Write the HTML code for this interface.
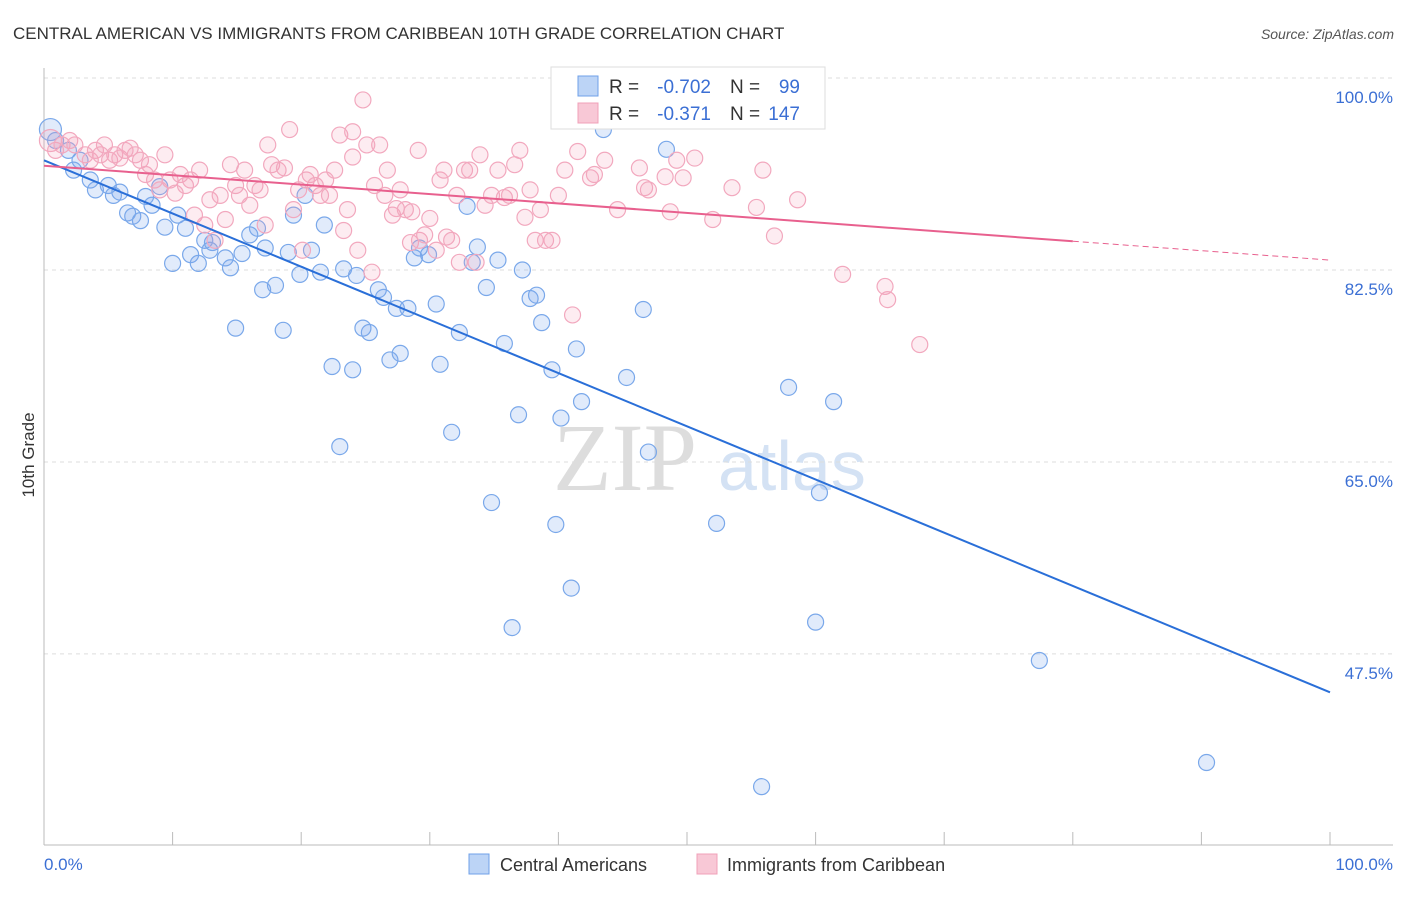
<!DOCTYPE html>
<html><head><meta charset="utf-8"><style>
body{margin:0;background:#fff;font-family:"Liberation Sans",sans-serif}
</style></head><body>
<svg id="chart" width="1406" height="892" xmlns="http://www.w3.org/2000/svg" font-family="Liberation Sans, sans-serif">
<text x="13" y="39" font-size="17" fill="#333">CENTRAL AMERICAN VS IMMIGRANTS FROM CARIBBEAN 10TH GRADE CORRELATION CHART</text>
<text x="1394" y="39" font-size="14" fill="#555" font-style="italic" text-anchor="end">Source: ZipAtlas.com</text>
<g><text x="553" y="490" font-size="96" fill="#ddd" font-family="Liberation Serif, serif">ZIP</text><text x="718" y="490" font-size="70" fill="#d4e2f4">atlas</text></g>
<g id="grid"></g><g id="axes"></g><g id="pts"></g><g id="lines"></g>
<text transform="translate(34,455) rotate(-90)" font-size="17" fill="#333" text-anchor="middle">10th Grade</text>
<text x="44" y="870" font-size="17" fill="#3b6fd4">0.0%</text>
<text x="1393" y="870" font-size="17" fill="#3b6fd4" text-anchor="end">100.0%</text>
<g>
<rect x="551" y="67" width="274" height="62" fill="#fff" stroke="#ddd"/>
<rect x="578" y="76" width="20" height="20" fill="#bcd4f6" stroke="#6fa0e8"/>
<rect x="578" y="103" width="20" height="20" fill="#f8c8d6" stroke="#f0a0b8"/>
<text x="609" y="93" font-size="19" fill="#333">R =</text>
<text x="711" y="93" font-size="19" fill="#3b6fd4" text-anchor="end">-0.702</text>
<text x="730" y="93" font-size="19" fill="#333">N =</text>
<text x="800" y="93" font-size="19" fill="#3b6fd4" text-anchor="end">99</text>
<text x="609" y="120" font-size="19" fill="#333">R =</text>
<text x="711" y="120" font-size="19" fill="#3b6fd4" text-anchor="end">-0.371</text>
<text x="730" y="120" font-size="19" fill="#333">N =</text>
<text x="800" y="120" font-size="19" fill="#3b6fd4" text-anchor="end">147</text>
</g>
<g>
<rect x="469" y="854" width="20" height="20" fill="#bcd4f6" stroke="#6fa0e8"/>
<text x="500" y="871" font-size="18" fill="#333">Central Americans</text>
<rect x="697" y="854" width="20" height="20" fill="#f8c8d6" stroke="#f0a0b8"/>
<text x="727" y="871" font-size="18" fill="#333">Immigrants from Caribbean</text>
</g>
</svg>
<script>
const yTicks=[100,82.5,65,47.5];
const yTickLabels=["100.0%","82.5%","65.0%","47.5%"];
const blueX=[0.5,0.9,1.9,2.8,2.3,3.6,4.0,5.0,5.4,5.9,6.5,6.9,7.5,7.9,8.4,9.0,9.4,10.0,10.4,11.0,11.4,12.0,12.5,13.1,12.9,14.1,14.5,14.9,15.4,16.0,16.6,17.0,17.2,18.0,18.6,19.0,19.4,19.9,20.3,20.8,21.5,21.8,22.4,23.0,23.3,24.0,24.3,24.8,25.3,26.0,26.4,26.9,27.4,27.7,28.3,28.8,29.2,29.9,30.5,30.8,31.7,32.3,32.9,33.3,33.7,34.4,34.8,35.3,35.8,36.4,36.9,37.2,37.8,38.3,38.7,39.5,39.8,40.2,41.0,41.4,41.8,43.5,45.3,46.6,47.0,48.4,52.3,57.9,60.0,60.3,61.4,77.4,90.4,55.8];
const blueY=[95.3,94.3,93.4,92.5,91.6,90.7,89.8,90.2,89.3,89.6,87.7,87.4,87.0,89.2,88.4,90.1,86.4,83.1,87.5,86.3,83.9,83.1,85.2,85.0,84.3,83.6,82.7,77.2,84.0,85.7,86.3,80.7,84.5,81.1,77.0,84.1,87.5,82.1,89.3,84.3,82.3,86.6,73.7,66.4,82.6,73.4,82.0,77.2,76.8,80.7,80.0,74.3,79.0,74.9,79.0,83.6,84.5,83.9,79.4,73.9,67.7,76.8,88.3,83.2,84.6,80.9,61.3,83.4,75.8,49.9,69.3,82.5,79.9,80.2,77.7,73.4,59.3,69.0,53.5,75.3,70.5,95.3,72.7,78.9,65.9,93.5,59.4,71.8,50.4,62.2,70.5,46.9,37.6,35.4];
const pinkX=[0.5,0.9,1.4,2.0,2.4,3.2,3.6,4.0,4.4,4.7,5.1,5.5,5.9,6.3,6.7,7.1,7.5,7.9,8.2,8.6,9.0,9.4,9.8,10.2,10.6,11.0,11.4,11.7,12.1,12.5,12.9,13.3,13.7,14.1,14.5,14.9,15.2,15.6,16.0,16.4,16.8,17.2,17.4,17.7,18.2,18.7,19.1,19.4,19.8,20.1,20.4,20.7,21.1,21.5,21.9,22.2,22.6,23.0,23.3,23.6,24.0,24.0,24.4,24.8,25.1,25.5,25.7,26.1,26.5,26.7,27.1,27.4,27.7,28.1,28.5,28.6,29.1,29.2,29.6,30.0,30.5,30.8,31.1,31.3,31.7,32.1,32.3,32.7,33.1,33.6,33.9,34.3,34.8,35.3,35.8,36.2,36.6,37.0,37.4,37.8,38.2,38.6,39.0,39.5,40.0,40.5,40.9,41.1,41.5,42.5,42.8,43.6,44.6,46.3,46.7,47.0,48.3,48.7,49.2,49.7,50.6,52.0,53.5,55.4,55.9,56.8,58.6,62.1,65.4,65.6,68.1,54.5];
const pinkY=[94.3,93.4,93.9,94.3,93.9,93.0,92.5,93.4,93.0,93.9,92.5,93.0,92.7,93.4,93.6,93.0,92.5,91.2,92.1,90.7,89.8,93.0,90.7,89.5,91.2,90.2,90.7,87.5,91.6,86.6,88.9,85.2,89.3,87.1,92.1,90.2,89.3,91.6,88.4,90.2,89.8,86.6,93.9,92.1,91.6,91.8,95.3,88.0,89.8,84.3,90.7,91.2,90.2,89.3,90.7,89.3,91.6,94.8,86.1,88.0,95.1,92.8,84.3,98.0,93.9,82.3,90.2,93.9,89.3,91.6,87.5,88.1,89.8,88.0,85.0,87.8,93.4,85.2,85.7,87.2,84.3,90.7,91.6,85.5,85.2,89.3,83.2,91.6,91.6,83.2,93.0,88.4,89.3,91.6,89.1,89.3,92.1,93.4,87.3,89.8,85.2,88.0,85.2,85.2,89.3,91.6,96.4,78.4,93.3,90.9,91.2,92.5,88.0,91.8,90.0,89.8,91.0,87.8,92.5,90.9,92.7,87.1,90.0,88.2,91.6,85.6,88.9,82.1,81.0,79.8,75.7,99.8];
const blueFit=[92.5,44.0];
const pinkFit=[92.0,83.4];
const pinkSolidEnd=80;
const NS="http://www.w3.org/2000/svg";
const xs=v=>44+v*12.86, ys=v=>78+(100-v)*10.97;
function mk(tag,attrs,parent){const e=document.createElementNS(NS,tag);for(const k in attrs)e.setAttribute(k,attrs[k]);document.getElementById(parent).appendChild(e);return e;}
yTicks.forEach((t,i)=>{
 const g=mk('line',{x1:44,x2:1393,y1:ys(t),y2:ys(t),stroke:'#ddd','stroke-dasharray':'4,4'},'grid');
 
 
 const l=mk('text',{x:1393,y:ys(t)+25,'font-size':17,fill:'#3b6fd4','text-anchor':'end'},'grid');
 l.textContent=yTickLabels[i];
 
 
});
const ax=mk('line',{x1:44,x2:44,y1:68,y2:845,stroke:'#bbb'},'axes');


const bx=mk('line',{x1:44,x2:1393,y1:845,y2:845,stroke:'#bbb'},'axes');


for(let i=0;i<=10;i++){
 const t=mk('line',{x1:xs(i*10),x2:xs(i*10),y1:832,y2:845,stroke:'#bbb'},'axes');
 
 
}
blueX.forEach((x,i)=>{
 const c=mk('circle',{cx:xs(x),cy:ys(blueY[i]),r:i==0?11:8,fill:'rgba(120,165,235,0.22)',stroke:'#7aa8ea','stroke-width':1.2},'pts');
 
 
});
pinkX.forEach((x,i)=>{
 const c=mk('circle',{cx:xs(x),cy:ys(pinkY[i]),r:i==0?11:8,fill:'rgba(245,160,185,0.2)',stroke:'#f2a8be','stroke-width':1.2},'pts');
 
 
});
const bl=mk('line',{x1:xs(0),y1:ys(blueFit[0]),x2:xs(100),y2:ys(blueFit[1]),stroke:'#2a6fd8','stroke-width':2},'lines');


const pm=pinkFit[0]+(pinkFit[1]-pinkFit[0])*pinkSolidEnd/100;
const pl=mk('line',{x1:xs(0),y1:ys(pinkFit[0]),x2:xs(pinkSolidEnd),y2:ys(pm),stroke:'#e8608e','stroke-width':2},'lines');


const pd=mk('line',{x1:xs(pinkSolidEnd),y1:ys(pm),x2:xs(100),y2:ys(pinkFit[1]),stroke:'#e8608e','stroke-width':1,'stroke-dasharray':'6,4'},'lines');


</script>
</body></html>
